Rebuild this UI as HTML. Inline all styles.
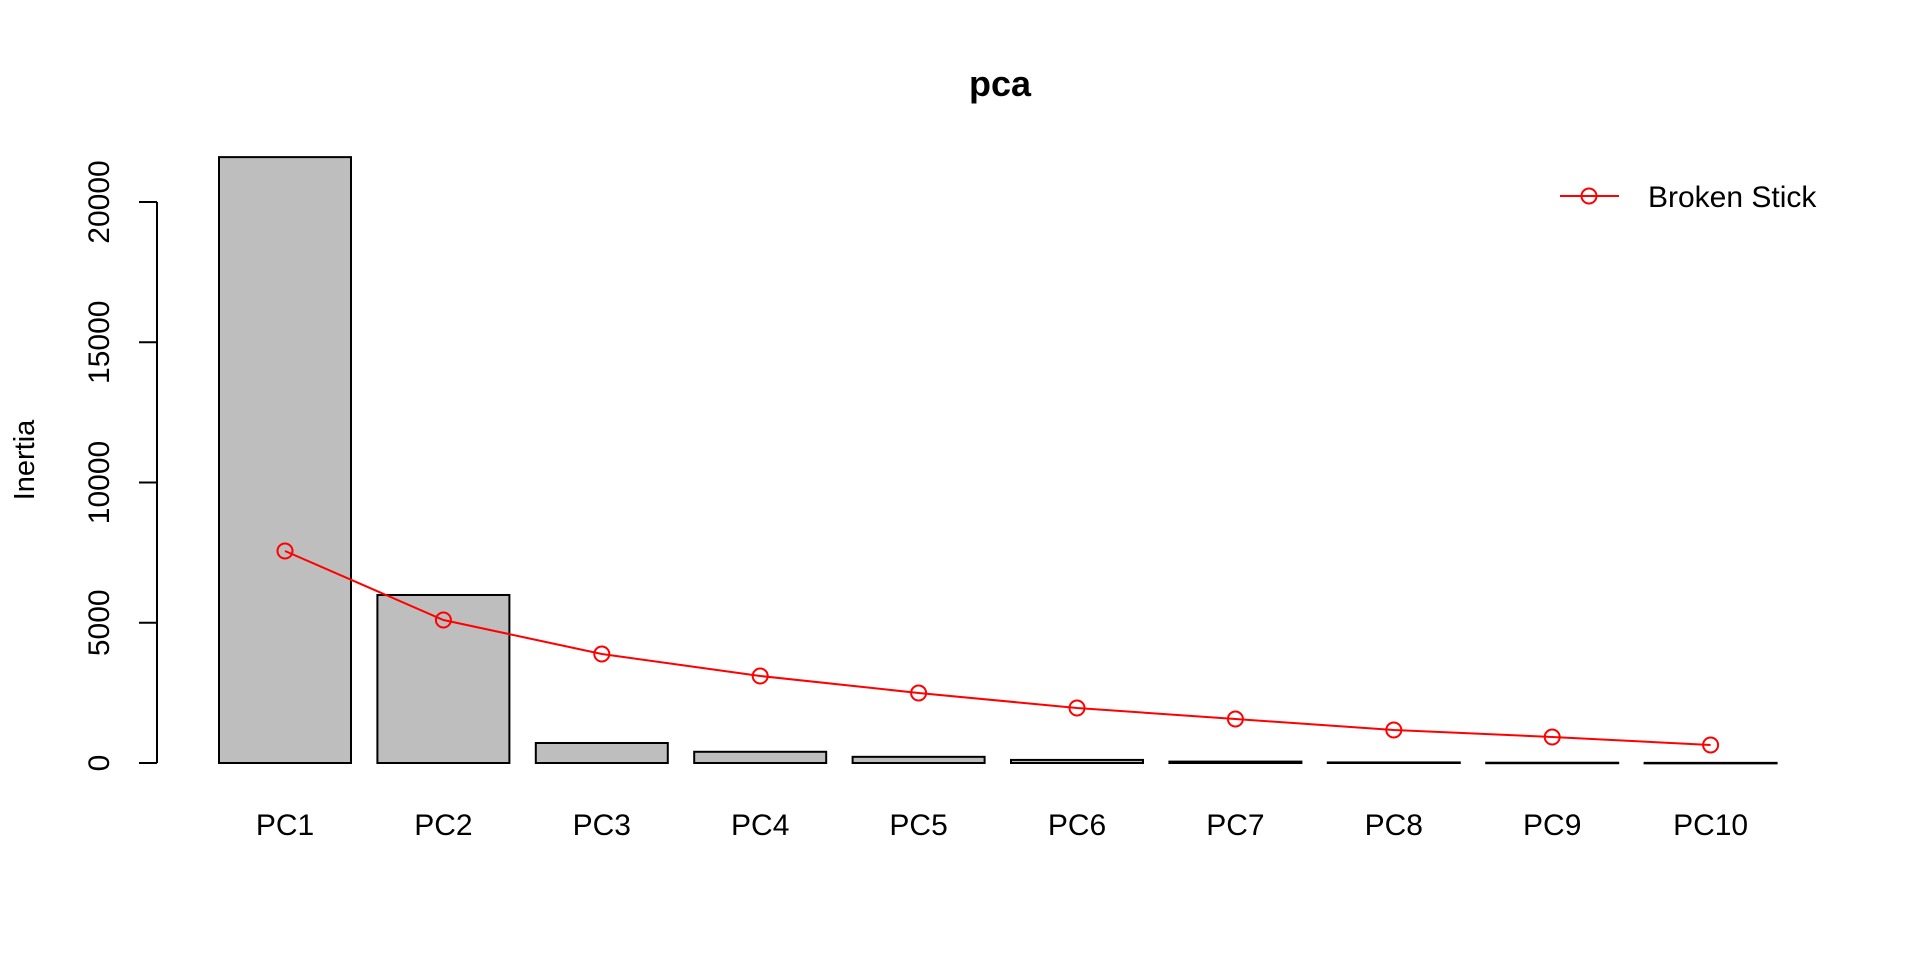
<!DOCTYPE html>
<html><head><meta charset="utf-8"><style>
html,body{margin:0;padding:0;background:#fff;width:1920px;height:960px;overflow:hidden}
svg{display:block;font-family:"Liberation Sans",Arial,sans-serif}
</style></head><body>
<svg id="chart" width="1920" height="960" viewBox="0 0 1920 960">
<text x="1000" y="96" text-anchor="middle" font-size="36" font-weight="bold">pca</text>
<g id="bars"></g>
<g id="yaxis"></g>
<g id="xlabels"></g>
<g id="line"></g>
<text transform="translate(34,460) rotate(-90)" text-anchor="middle" font-size="29">Inertia</text>
<g>
<line x1="1560" y1="196" x2="1619" y2="196" stroke="#ff0000" stroke-width="2"/>
<circle cx="1589" cy="196" r="7.5" fill="none" stroke="#ff0000" stroke-width="2"/>
<text x="1648" y="207" font-size="30">Broken Stick</text>
</g>
</svg>
<script>
const categories = ["PC1","PC2","PC3","PC4","PC5","PC6","PC7","PC8","PC9","PC10"];
const inertia = [21600, 5990, 713, 400, 220, 110, 50, 20, 10, 5];
const brokenStick = [7558, 5098, 3886, 3102, 2496, 1961, 1569, 1176, 927, 642];
const yTicks = [0, 5000, 10000, 15000, 20000];
const NS = "http://www.w3.org/2000/svg";
function y(v){ return 763 - v * (561/20000); }
function xLeft(i){ return 192.6 + 132 * (0.2 + i * 1.2); }
function xCenter(i){ return xLeft(i) + 66; }
function mk(tag, attrs, parent){ const e=document.createElementNS(NS,tag); for(const k in attrs) e.setAttribute(k,attrs[k]); parent.appendChild(e); return e; }
const bars=document.getElementById('bars'), ya=document.getElementById('yaxis'), xl=document.getElementById('xlabels'), ln=document.getElementById('line');
inertia.forEach((v,i)=>{
  const r=mk('rect',{x:xLeft(i),y:y(v),width:132,height:Math.max(763-y(v),0.5),fill:'#bebebe',stroke:'#000','stroke-width':2},bars);
  
  
});
categories.forEach((c,i)=>{
  const t=mk('text',{x:xCenter(i),y:835,'text-anchor':'middle','font-size':30},xl);
  t.textContent=c;
  
  
});
const al=mk('line',{x1:157,x2:157,y1:y(yTicks[0]),y2:y(yTicks[yTicks.length-1]),stroke:'#000','stroke-width':2},ya);


yTicks.forEach(v=>{
  const tk=mk('line',{x1:139,x2:157,y1:y(v),y2:y(v),stroke:'#000','stroke-width':2},ya);
  
  
  const t=mk('text',{transform:`translate(109,${y(v)}) rotate(-90)`,'text-anchor':'middle','font-size':30},ya);
  t.textContent=String(v);
  
  
});
const pts=brokenStick.map((v,i)=>xCenter(i)+','+y(v)).join(' ');
const pl=mk('polyline',{points:pts,fill:'none',stroke:'#ff0000','stroke-width':2},ln);


brokenStick.forEach((v,i)=>{
  const c=mk('circle',{cx:xCenter(i),cy:y(v),r:7.5,fill:'none',stroke:'#ff0000','stroke-width':2},ln);
  
  
});
</script>
</body></html>
